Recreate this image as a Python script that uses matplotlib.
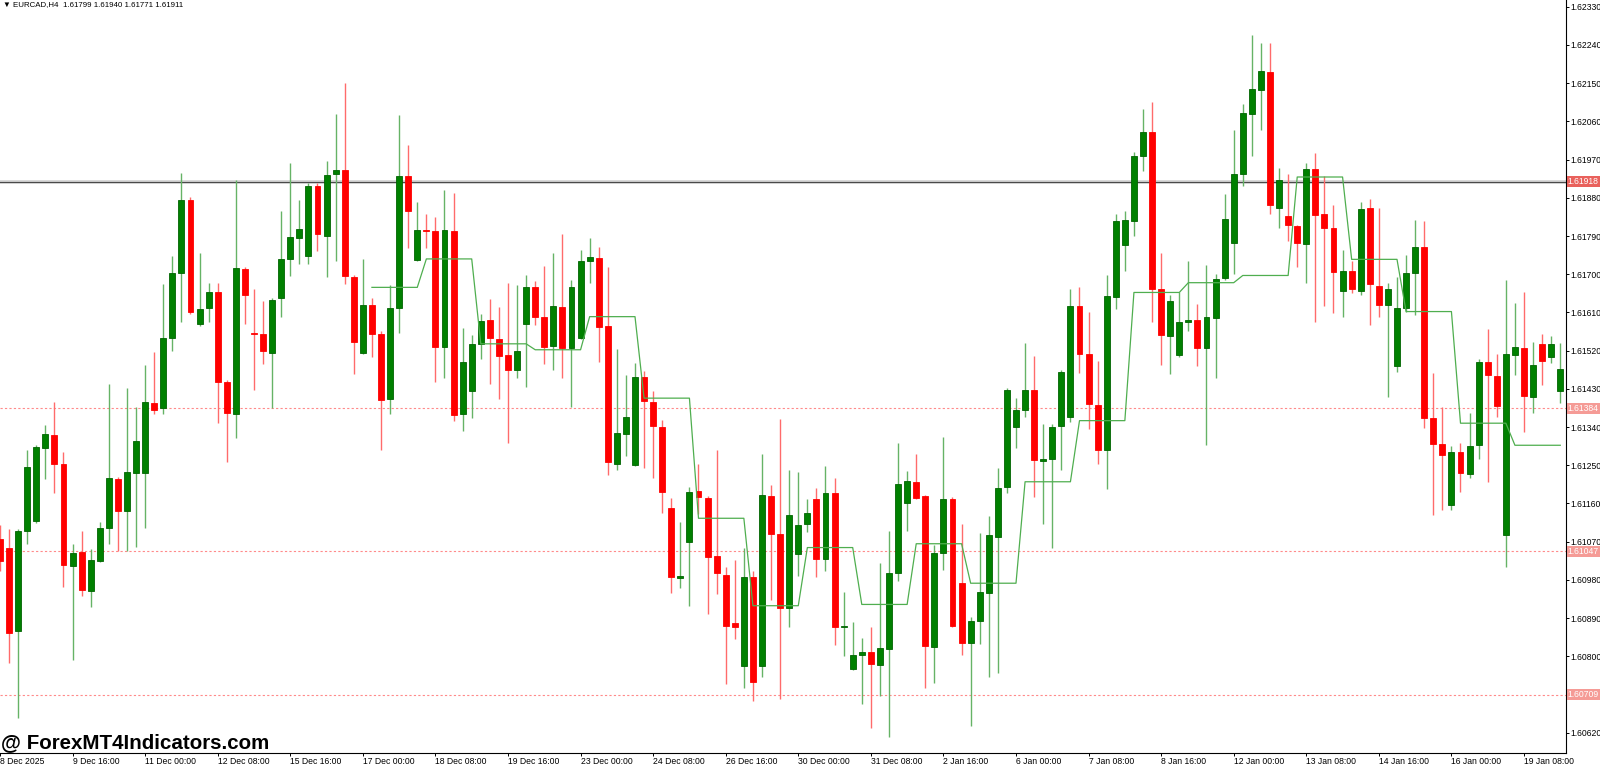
import numpy as np
import matplotlib.pyplot as plt
from matplotlib.transforms import blended_transform_factory

# EURCAD H4 candles, left to right (the first one is cut by the left edge)
opens = [1.61076, 1.61054, 1.60859, 1.61094, 1.61119, 1.61290, 1.61322, 1.61254, 1.61013, 1.61046,
         1.60953, 1.61025, 1.61103, 1.61217, 1.61141, 1.61231, 1.61231, 1.61397, 1.61384, 1.61550,
         1.61703, 1.61874, 1.61582, 1.61620, 1.61659, 1.61447, 1.61371, 1.61713, 1.61560, 1.61559,
         1.61515, 1.61645, 1.61735, 1.61785, 1.61743, 1.61907, 1.61789, 1.61935, 1.61945, 1.61693,
         1.61515, 1.61627, 1.61558, 1.61405, 1.61620, 1.61931, 1.61733, 1.61803, 1.61801, 1.61529,
         1.61802, 1.61371, 1.61424, 1.61536, 1.61591, 1.61548, 1.61509, 1.61474, 1.61582, 1.61671,
         1.61600, 1.61531, 1.61622, 1.61526, 1.61550, 1.61731, 1.61739, 1.61577, 1.61254, 1.61323,
         1.61251, 1.61457, 1.61398, 1.61341, 1.61149, 1.60984, 1.61068, 1.61190, 1.61172, 1.61036,
         1.60991, 1.60879, 1.60776, 1.60987, 1.60776, 1.61177, 1.61087, 1.60914, 1.61040, 1.61111,
         1.61170, 1.61029, 1.61184, 1.60869, 1.60771, 1.60803, 1.60811, 1.60780, 1.60816, 1.60997,
         1.61160, 1.61211, 1.61177, 1.60822, 1.61043, 1.61171, 1.60973, 1.60832, 1.60883, 1.60949,
         1.61081, 1.61198, 1.61339, 1.61381, 1.61428, 1.61260, 1.61265, 1.61343, 1.61363, 1.61625,
         1.61511, 1.61392, 1.61286, 1.61646, 1.61769, 1.61826, 1.61978, 1.62034, 1.61664, 1.61554,
         1.61509, 1.61588, 1.61592, 1.61526, 1.61597, 1.61691, 1.61774, 1.61937, 1.62078, 1.62134,
         1.62177, 1.61857, 1.61837, 1.61813, 1.61772, 1.61947, 1.61843, 1.61810, 1.61660, 1.61707,
         1.61661, 1.61855, 1.61673, 1.61627, 1.61483, 1.61620, 1.61704, 1.61765, 1.61361, 1.61301,
         1.61157, 1.61282, 1.61230, 1.61298, 1.61493, 1.61460, 1.61085, 1.61509, 1.61527, 1.61411,
         1.61535, 1.61505, 1.61425]
highs = [1.61108, 1.61100, 1.61100, 1.61287, 1.61298, 1.61344, 1.61398, 1.61282, 1.61065, 1.61095,
         1.61052, 1.61116, 1.61442, 1.61222, 1.61433, 1.61388, 1.61487, 1.61516, 1.61677, 1.61744,
         1.61939, 1.61882, 1.61750, 1.61679, 1.61679, 1.61451, 1.61923, 1.61718, 1.61666, 1.61637,
         1.61643, 1.61849, 1.61961, 1.61874, 1.61916, 1.61916, 1.61967, 1.62077, 1.62150, 1.61698,
         1.61736, 1.61644, 1.61567, 1.61674, 1.62074, 1.62004, 1.61870, 1.61842, 1.61834, 1.61899,
         1.61891, 1.61574, 1.61556, 1.61606, 1.61642, 1.61622, 1.61680, 1.61674, 1.61698, 1.61684,
         1.61720, 1.61751, 1.61795, 1.61686, 1.61758, 1.61786, 1.61763, 1.61716, 1.61524, 1.61462,
         1.61490, 1.61471, 1.61424, 1.61357, 1.61173, 1.61117, 1.61198, 1.61252, 1.61177, 1.61287,
         1.61011, 1.61027, 1.61054, 1.61000, 1.61276, 1.61204, 1.61359, 1.61238, 1.61233, 1.61170,
         1.61197, 1.61249, 1.61220, 1.60951, 1.60881, 1.60843, 1.60868, 1.61019, 1.61095, 1.61303,
         1.61236, 1.61276, 1.61181, 1.61062, 1.61316, 1.61175, 1.61111, 1.60892, 1.61090, 1.61130,
         1.61244, 1.61433, 1.61408, 1.61538, 1.61507, 1.61346, 1.61346, 1.61474, 1.61666, 1.61671,
         1.61610, 1.61495, 1.61697, 1.61842, 1.61848, 1.61988, 1.62090, 1.62106, 1.61750, 1.61650,
         1.61657, 1.61731, 1.61630, 1.61721, 1.61700, 1.61888, 1.62039, 1.62102, 1.62263, 1.62245,
         1.62245, 1.61950, 1.61936, 1.61817, 1.61963, 1.61985, 1.61931, 1.61864, 1.61758, 1.61731,
         1.61871, 1.61877, 1.61857, 1.61679, 1.61693, 1.61745, 1.61828, 1.61826, 1.61468, 1.61387,
         1.61295, 1.61303, 1.61374, 1.61501, 1.61571, 1.61512, 1.61686, 1.61633, 1.61658, 1.61541,
         1.61560, 1.61555, 1.61538]
lows = [1.61000, 1.60784, 1.60654, 1.61065, 1.61115, 1.61217, 1.61184, 1.60962, 1.60792, 1.60941,
        1.60916, 1.61022, 1.61065, 1.61047, 1.61047, 1.61057, 1.61101, 1.61370, 1.61370, 1.61518,
        1.61588, 1.61606, 1.61579, 1.61588, 1.61350, 1.61257, 1.61315, 1.61582, 1.61428, 1.61489,
        1.61384, 1.61598, 1.61696, 1.61725, 1.61723, 1.61755, 1.61693, 1.61731, 1.61677, 1.61466,
        1.61511, 1.61506, 1.61287, 1.61371, 1.61561, 1.61762, 1.61730, 1.61761, 1.61445, 1.61456,
        1.61354, 1.61330, 1.61362, 1.61500, 1.61441, 1.61406, 1.61303, 1.61455, 1.61435, 1.61581,
        1.61489, 1.61474, 1.61455, 1.61388, 1.61548, 1.61680, 1.61494, 1.61227, 1.61238, 1.61271,
        1.61248, 1.61244, 1.61219, 1.61138, 1.60948, 1.60960, 1.60919, 1.61135, 1.60899, 1.60946,
        1.60735, 1.60840, 1.60724, 1.60694, 1.60751, 1.60933, 1.60699, 1.60870, 1.60989, 1.61092,
        1.60987, 1.61000, 1.60827, 1.60800, 1.60768, 1.60688, 1.60632, 1.60706, 1.60610, 1.60978,
        1.61094, 1.61170, 1.60724, 1.60738, 1.61002, 1.60868, 1.60803, 1.60635, 1.60829, 1.60751,
        1.60760, 1.61184, 1.61290, 1.61363, 1.61175, 1.61112, 1.61054, 1.61238, 1.61352, 1.61468,
        1.61336, 1.61254, 1.61193, 1.61617, 1.61707, 1.61790, 1.61942, 1.61588, 1.61485, 1.61466,
        1.61506, 1.61566, 1.61484, 1.61298, 1.61455, 1.61687, 1.61700, 1.61907, 1.61978, 1.62039,
        1.61841, 1.61810, 1.61779, 1.61718, 1.61680, 1.61587, 1.61626, 1.61608, 1.61600, 1.61655,
        1.61652, 1.61581, 1.61598, 1.61411, 1.61470, 1.61610, 1.61604, 1.61338, 1.61132, 1.61144,
        1.61144, 1.61187, 1.61220, 1.61265, 1.61211, 1.61363, 1.61011, 1.61463, 1.61328, 1.61374,
        1.61440, 1.61490, 1.61397]
closes = [1.61024, 1.60854, 1.61095, 1.61246, 1.61292, 1.61323, 1.61254, 1.61014, 1.61043, 1.60957,
          1.61026, 1.61102, 1.61220, 1.61143, 1.61235, 1.61306, 1.61398, 1.61381, 1.61549, 1.61704,
          1.61874, 1.61611, 1.61618, 1.61657, 1.61445, 1.61374, 1.61715, 1.61650, 1.61558, 1.61518,
          1.61640, 1.61736, 1.61787, 1.61807, 1.61907, 1.61795, 1.61933, 1.61946, 1.61696, 1.61541,
          1.61627, 1.61558, 1.61404, 1.61621, 1.61931, 1.61850, 1.61805, 1.61801, 1.61529, 1.61805,
          1.61368, 1.61492, 1.61535, 1.61589, 1.61550, 1.61508, 1.61474, 1.61520, 1.61669, 1.61599,
          1.61528, 1.61624, 1.61525, 1.61670, 1.61731, 1.61740, 1.61575, 1.61258, 1.61325, 1.61364,
          1.61458, 1.61401, 1.61343, 1.61187, 1.60987, 1.60989, 1.61188, 1.61175, 1.61033, 1.60997,
          1.60872, 1.60870, 1.60987, 1.60740, 1.61181, 1.61087, 1.60914, 1.61132, 1.61108, 1.61138,
          1.61030, 1.61184, 1.60870, 1.60871, 1.60803, 1.60809, 1.60781, 1.60819, 1.60997, 1.61206,
          1.61213, 1.61173, 1.60824, 1.61043, 1.61170, 1.60872, 1.60832, 1.60883, 1.60951, 1.61085,
          1.61197, 1.61428, 1.61381, 1.61428, 1.61262, 1.61265, 1.61341, 1.61469, 1.61625, 1.61511,
          1.61394, 1.61287, 1.61648, 1.61825, 1.61828, 1.61979, 1.62034, 1.61664, 1.61556, 1.61637,
          1.61588, 1.61593, 1.61526, 1.61600, 1.61689, 1.61830, 1.61937, 1.62079, 1.62137, 1.62178,
          1.61862, 1.61922, 1.61815, 1.61774, 1.61947, 1.61840, 1.61810, 1.61706, 1.61707, 1.61664,
          1.61853, 1.61677, 1.61628, 1.61665, 1.61621, 1.61703, 1.61765, 1.61361, 1.61299, 1.61274,
          1.61282, 1.61231, 1.61295, 1.61493, 1.61462, 1.61390, 1.61511, 1.61529, 1.61414, 1.61487,
          1.61495, 1.61535, 1.61476]

# daily level drawn by the green step line, one value per day (6 H4 bars), from bar 41
line_start = 41
daily_levels = [1.61669, 1.61736, 1.61536, 1.61522, 1.61600, 1.61408, 1.61125, 1.60919,
                1.61056, 1.60922, 1.61065, 1.60972, 1.61211, 1.61355, 1.61657, 1.61680,
                1.61697, 1.61929, 1.61735, 1.61612, 1.61349, 1.61297]

bid_price = 1.61918
level_lines = [1.61384, 1.61047, 1.60709]

price_ticks = [1.62330, 1.62240, 1.62150, 1.62060, 1.61970, 1.61880, 1.61790, 1.61700,
               1.61610, 1.61520, 1.61430, 1.61340, 1.61250, 1.61160, 1.61070, 1.60980,
               1.60890, 1.60800, 1.60710, 1.60620]
time_labels = ["8 Dec 2025", "9 Dec 16:00", "11 Dec 00:00", "12 Dec 08:00", "15 Dec 16:00",
               "17 Dec 00:00", "18 Dec 08:00", "19 Dec 16:00", "23 Dec 00:00", "24 Dec 08:00",
               "26 Dec 16:00", "30 Dec 00:00", "31 Dec 08:00", "2 Jan 16:00", "6 Jan 00:00",
               "7 Jan 08:00", "8 Jan 16:00", "12 Jan 00:00", "13 Jan 08:00", "14 Jan 16:00",
               "16 Jan 00:00", "19 Jan 08:00"]
label_step = 8

o = np.array(opens)
h = np.array(highs)
l = np.array(lows)
c = np.array(closes)
x = np.arange(len(o))

W, H = 1600, 767
fig = plt.figure(figsize=(W / 100, H / 100), dpi=100)
fig.patch.set_facecolor('white')
ax = fig.add_axes([0, 14 / H, 1566 / W, 753 / H])
ax.set_facecolor('white')

FONT = 'Liberation Sans'
AXFS = 6.2

# horizontal lines
ax.axhline(bid_price, color='#d0d0d0', lw=2.6, zorder=1)
ax.axhline(bid_price, color='#4a4a4a', lw=0.8, zorder=1.1)
for lv in level_lines:
    ax.axhline(lv, color='#ff8a8a', lw=0.8, ls=(0, (2, 2)), zorder=1)

# candles
up = c >= o
wick_col = np.where(up, '#66b366', '#ff6b6b')
ax.vlines(x, l, h, colors=wick_col, lw=1.0, zorder=2)
body_lo = np.minimum(o, c)
body_h = np.maximum(np.abs(c - o), 0.00003)
ax.bar(x, body_h, bottom=body_lo, width=0.66,
       color=np.where(up, '#008000', '#ff0000'),
       edgecolor=np.where(up, '#006400', '#ff0000'), linewidth=0.6, zorder=3)

# daily step line
lvl = np.repeat(daily_levels, 6)
lx = np.arange(line_start, line_start + len(lvl))
keep = lx < len(o)
ax.plot(lx[keep], lvl[keep], color='#4fae4f', lw=0.9, zorder=4)

ax.set_xlim(0.264, 172.63)
ax.set_ylim(1.60572, 1.62346)

# axes frame like the terminal
for side in ['top', 'left']:
    ax.spines[side].set_visible(False)
for side in ['right', 'bottom']:
    ax.spines[side].set_color('black')
    ax.spines[side].set_linewidth(0.8)

ax.yaxis.tick_right()
ax.set_yticks(price_ticks)
ax.set_yticklabels([f"{p:.5f}" for p in price_ticks], fontsize=AXFS, family=FONT)
ax.tick_params(axis='y', length=2.2, width=0.7, pad=1.2, colors='black')

tick_pos = np.arange(0, len(time_labels) * label_step, label_step)
ax.set_xticks(tick_pos)
ax.set_xticklabels(time_labels, fontsize=AXFS, family=FONT, ha='left')
ax.tick_params(axis='x', length=2.2, width=0.7, pad=1.0, colors='black')

# price boxes on the scale
trans = blended_transform_factory(ax.transAxes, ax.transData)
box_specs = [(bid_price, '#e9615c')] + [(lv, '#f59b96') for lv in level_lines]
for p, col in box_specs:
    ax.text(1.0012, p, f"{p:.5f}", transform=trans, fontsize=AXFS, family=FONT,
            color='white', va='center', ha='left', clip_on=False, zorder=6,
            bbox=dict(boxstyle='square,pad=0.12', fc=col, ec='none'))

# header and watermark
fig.text(3 / W, 1 - 5 / H, "\u25bc EURCAD,H4  1.61799 1.61940 1.61771 1.61911",
         fontsize=5.7, family=[FONT, 'DejaVu Sans'], va='center', ha='left', color='black')
fig.text(1 / W, 1 - 743 / H, "@ ForexMT4Indicators.com", fontsize=14.8, family=FONT,
         weight='bold', va='center', ha='left', color='black')

fig.savefig('out.png', dpi=100, facecolor='white')
